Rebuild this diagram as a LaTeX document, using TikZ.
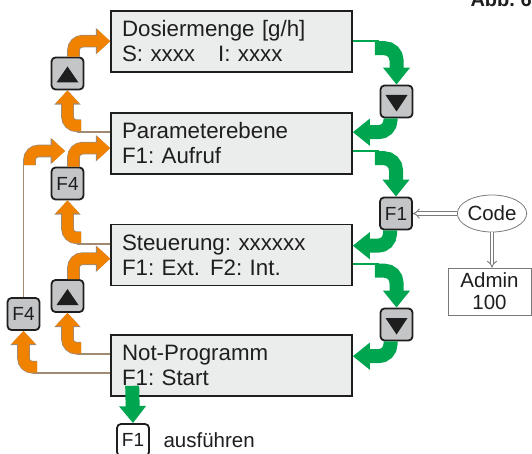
\documentclass[tikz,border=0pt]{standalone}
\usepackage{fontspec}
\setmainfont{Liberation Sans}
\usetikzlibrary{arrows.meta,calc,shapes.geometric}
\definecolor{ink}{HTML}{1E1E1E}
\definecolor{screenfill}{HTML}{EBEDEC}
\definecolor{keyfill}{HTML}{C4C5C7}
\definecolor{orangeflow}{HTML}{F08200}
\definecolor{tanedge}{HTML}{A08A72}
\definecolor{greenflow}{HTML}{00A550}
\definecolor{hollowline}{HTML}{7A7A7A}
\tikzset{
  screen/.style={
    rectangle,
    draw=ink,
    line width=1.6pt,
    fill=screenfill,
    minimum width=241pt,
    minimum height=61pt,
    text width=219pt,
    inner xsep=11pt,
    align=left,
    text=ink,
    font=\fontsize{22.3}{25}\selectfont
  },
  keybox/.style={
    rectangle,
    rounded corners=4pt,
    draw=ink,
    line width=1.8pt,
    fill=keyfill,
    minimum width=32pt,
    minimum height=32pt,
    inner sep=0pt,
    text=ink,
    font=\fontsize{19}{21}\selectfont
  },
  upkey/.style={
    keybox,
    path picture={\fill[ink, sharp corners] ($(path picture bounding box.center)+(-11,9)$) -- ++(22,0) -- ++(-11,-16) -- cycle;}
  },
  downkey/.style={
    keybox,
    path picture={\fill[ink, sharp corners] ($(path picture bounding box.center)+(-11,-6.5)$) -- ++(22,0) -- ++(-11,16.5) -- cycle;}
  },
  note/.style={
    draw=hollowline,
    line width=0.8pt,
    fill=white,
    text=ink,
    align=center,
    font=\fontsize{20.5}{22}\selectfont
  },
  oline/.style={draw=tanedge, line width=1.8pt},
  gline/.style={draw=greenflow, line width=2pt},
  oband/.style={
    draw=orangeflow,
    line width=11pt,
    rounded corners=9pt,
    -{Triangle[width=23pt,length=13pt]}
  },
  oedge/.style={
    draw=tanedge,
    line width=12.6pt,
    rounded corners=9pt,
    -{Triangle[width=25.5pt,length=14.3pt]}
  },
  gband/.style={
    draw=greenflow,
    line width=14pt,
    rounded corners=12pt,
    -{Triangle[width=26pt,length=17pt]}
  },
  hollow/.style={
    draw=hollowline,
    double=white,
    double distance=2.6pt,
    line width=0.9pt,
    -{Implies}
  }
}
\newcommand{\obend}[1]{\draw[oedge] #1; \draw[oband] #1;}

\begin{document}
\frenchspacing
\begin{tikzpicture}[x=1pt,y=-1pt]
  \useasboundingbox (0,0) rectangle (532,454);

  % screens
  \node[screen] (dos) at (231.5,41.5) {Dosiermenge [g/h]\\S: xxxx\hspace{23pt}I: xxxx};
  \node[screen] (par) at (231.5,143.5) {Parameterebene\\F1: Aufruf};
  \node[screen] (ste) at (231.5,255) {Steuerung: xxxxxx\\F1: Ext.\hspace{10pt}F2: Int.};
  \node[screen] (notp) at (231.5,365.5) {Not-Programm\\F1: Start};

  % keys
  \node[upkey] (upa) at (67.5,73.5) {};
  \node[keybox] (f4a) at (67.5,183.5) {F4};
  \node[upkey] (upb) at (67.5,296) {};
  \node[keybox] (f4b) at (23.5,314) {F4};
  \node[downkey] (dna) at (396.5,101.5) {};
  \node[keybox] (f1k) at (396,213.5) {F1};
  \node[downkey] (dnb) at (396.5,324.5) {};
  \node[keybox, fill=white] (f1c) at (133,440) {F1};
  \node[anchor=base west, text=ink, font=\fontsize{20.5}{22}\selectfont] (run) at (160,447) {ausführen};

  % code and admin
  \node[note, ellipse, minimum width=62pt, minimum height=37pt, inner sep=0pt] (code) at (492,213.5) {Code};
  \node[note, rectangle, minimum width=83pt, minimum height=47pt, inner sep=0pt] (admin) at (489.5,291.5) {Admin\\100};
  \node[anchor=base west, text=ink, font=\bfseries\fontsize{20}{24}\selectfont] (fig) at (467,7) {Abb. 6};

  % orange: upward through the menu
  \draw[oline] ($(par.north west)+(0,19.5)$) -- ++(-33,0);
  \obend{($(par.north west)+(-29,13.5)$) -| (upa.south)}
  \obend{($(upa.north)+(6,0)$) |- ($(dos.north west)+(0,31)$)}

  \draw[oline] ($(ste.north west)+(0,20)$) -- ++(-33,0);
  \obend{($(ste.north west)+(-29,14)$) -| (f4a.south)}
  \obend{($(f4a.north)+(6,0)$) |- ($(par.north west)+(0,36)$)}

  \draw[oline] ($(notp.north west)+(0,20)$) -- ++(-33,0);
  \obend{($(notp.north west)+(-29,14)$) -| (upb.south)}
  \obend{($(upb.north)+(6,0)$) |- ($(ste.north west)+(0,35)$)}

  \coordinate (joinb) at (65,151);
  \draw[oline] ($(notp.north west)+(0,39)$) -- ++(-77,0);
  \obend{($(notp.north west)+(-73,33)$) -| (f4b.south)}
  \draw[oline] (f4b.north) -- ++(0,-136);
  \obend{($(f4b.north)+(6,-132)$) |- (joinb)}

  % green: downward through the menu
  \draw[gline] ($(dos.north east)+(0,31)$) -- ++(26,0);
  \draw[gband] ($(dos.north east)+(22,38)$) -| (dna.north);
  \draw[gband] ($(dna.south)+(-6,0)$) |- ($(par.north east)+(0,20)$);

  \draw[gline] ($(par.north east)+(0,39)$) -- ++(26,0);
  \draw[gband] ($(par.north east)+(22,46)$) -| (f1k.north);
  \draw[gband] ($(f1k.south)+(-6,0)$) |- ($(ste.north east)+(0,22)$);

  \draw[gline] ($(ste.north east)+(0,40)$) -- ++(26,0);
  \draw[gband] ($(ste.north east)+(22,47)$) -| (dnb.north);
  \draw[gband] ($(dnb.south)+(-6,0)$) |- ($(notp.north east)+(0,22)$);

  \draw[gband] ($(notp.south west)+(22,-11)$) -- (f1c.north);

  % code entry
  \draw[hollow] (code.west) -- (f1k.east);
  \draw[hollow] (code.south) -- (code.south |- admin.north);
\end{tikzpicture}
\end{document}
